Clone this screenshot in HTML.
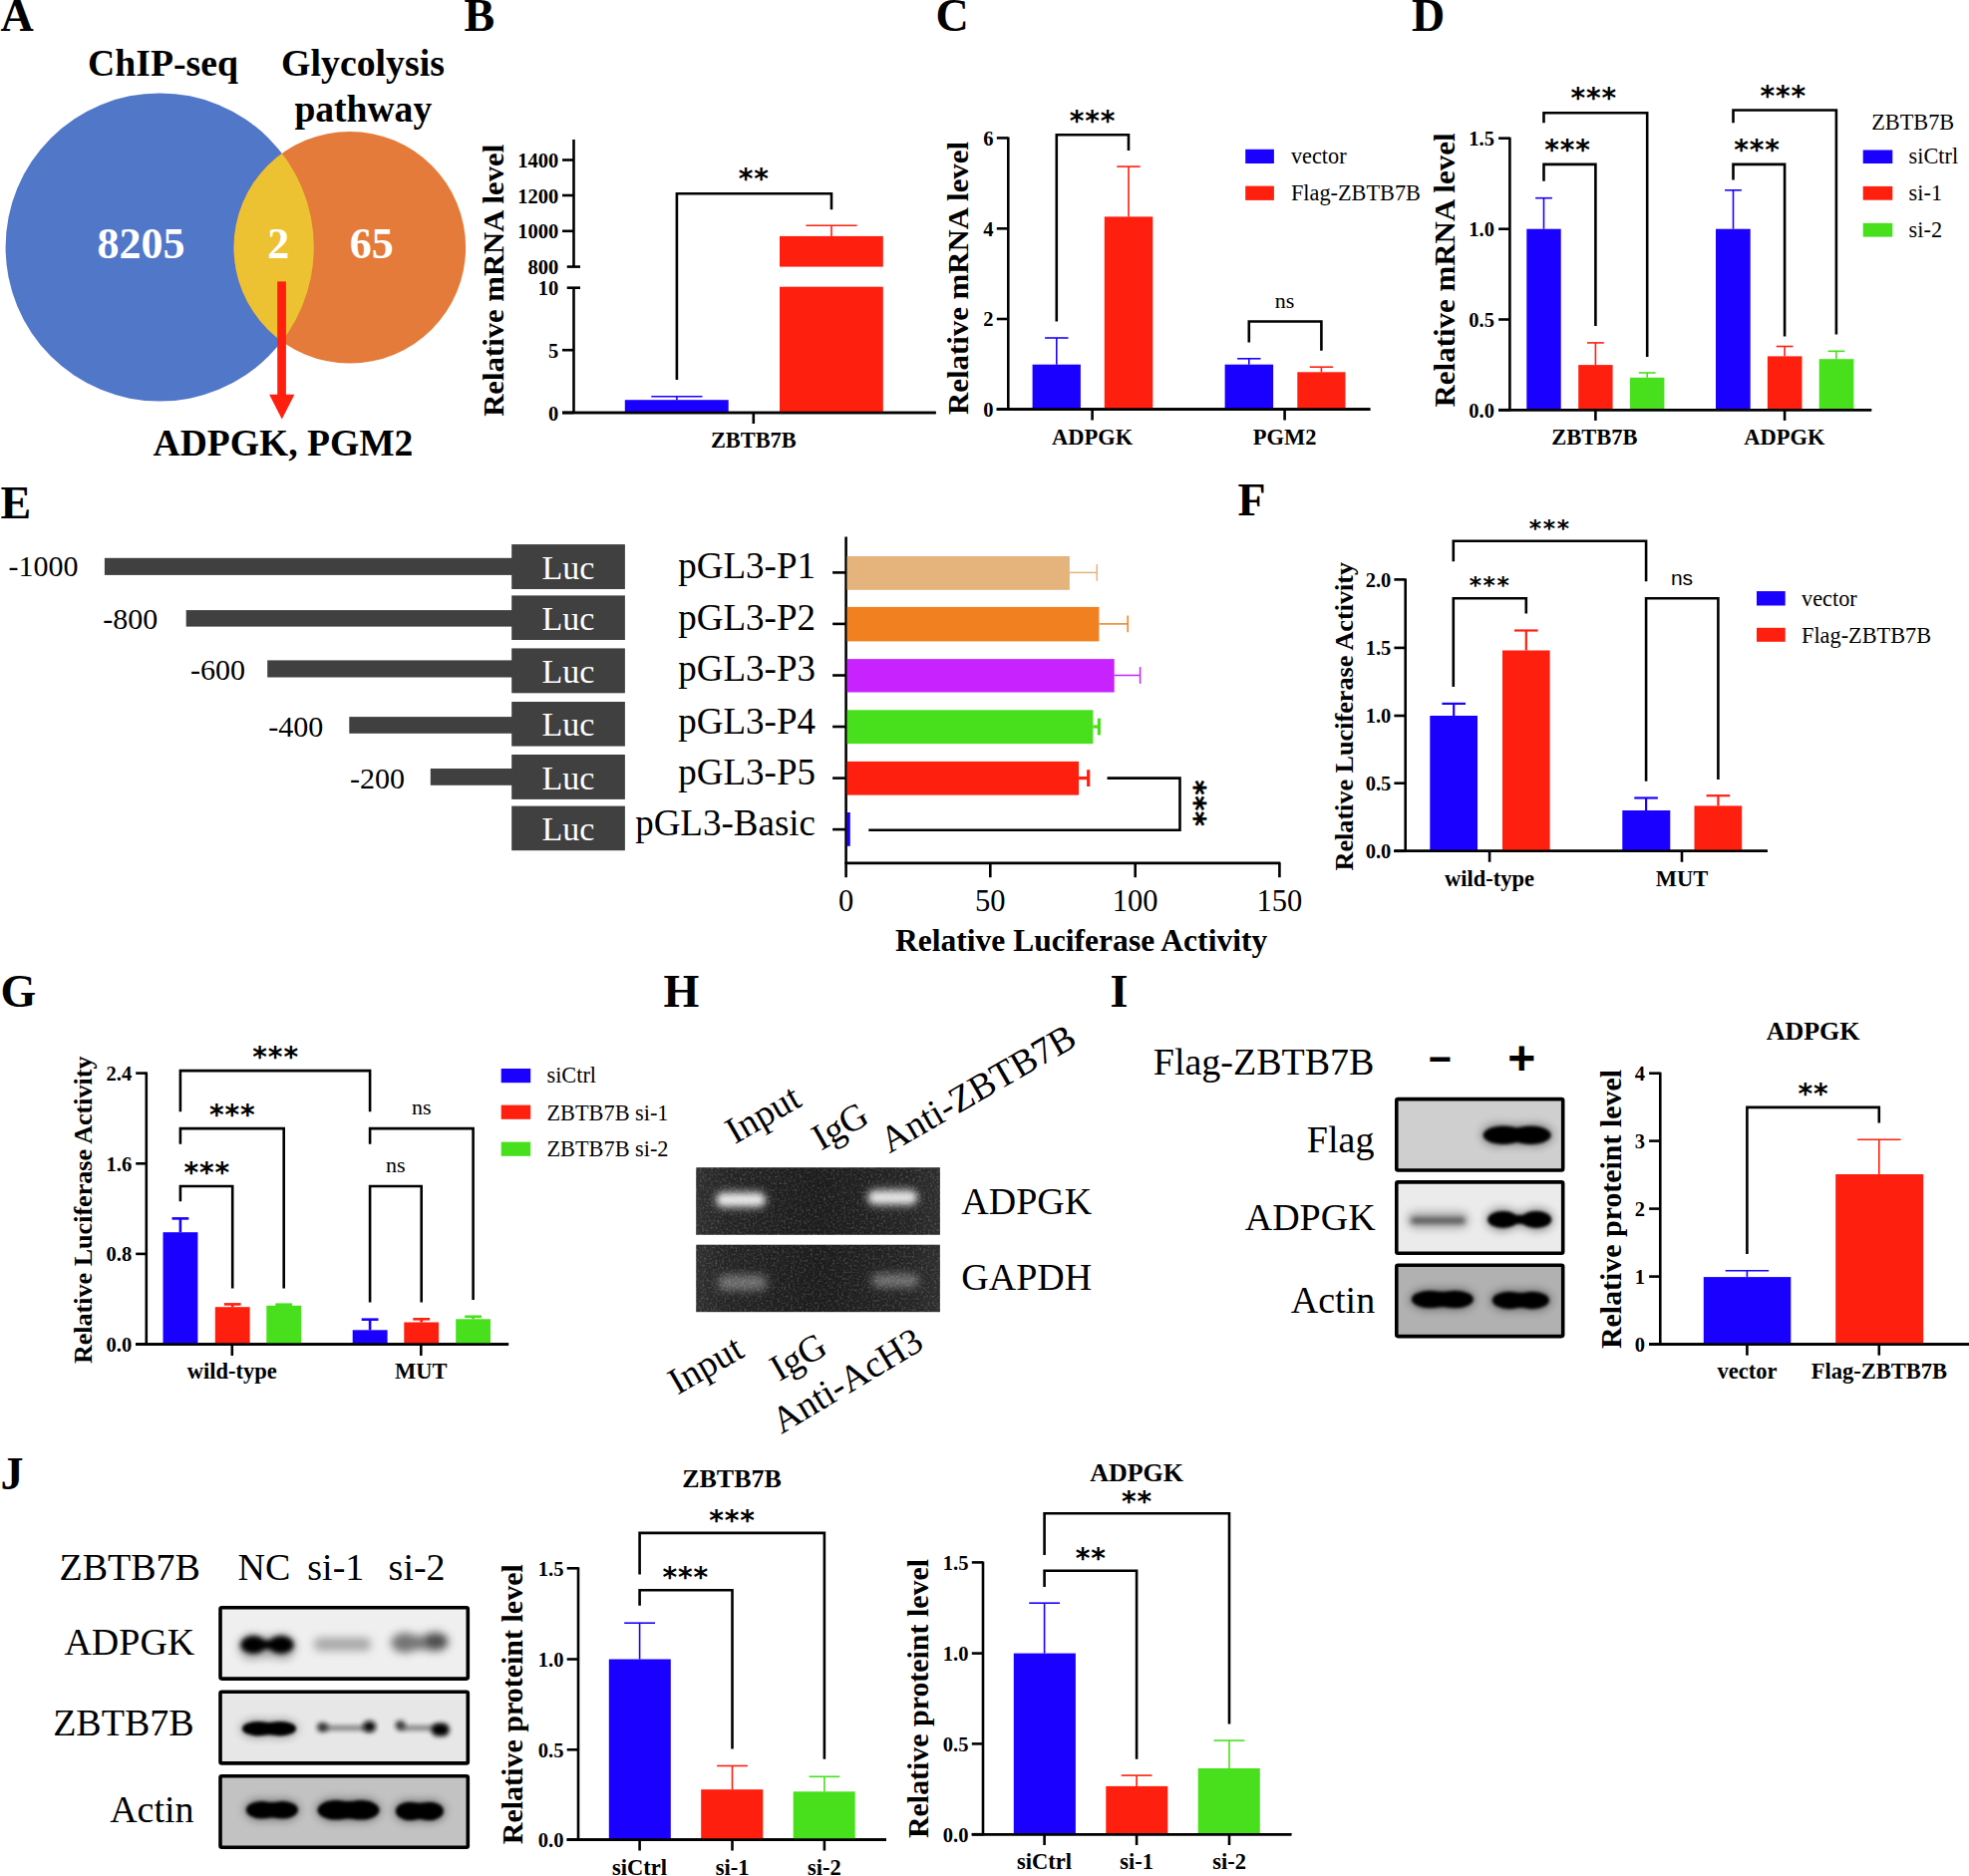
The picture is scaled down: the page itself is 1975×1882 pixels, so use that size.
<!DOCTYPE html>
<html lang="en"><head><meta charset="utf-8"><title>Figure</title>
<style>
html,body{margin:0;padding:0;background:#fff}
svg{display:block}
text{font-family:'Liberation Serif','DejaVu Serif',serif;white-space:pre}
text.st{font-family:'DejaVu Sans','Liberation Sans',sans-serif}
text.sa{font-family:'Liberation Sans','DejaVu Sans',sans-serif}
</style></head>
<body>
<svg width="1975" height="1882" viewBox="0 0 1975 1882">
<rect width="1975" height="1882" fill="#fff"/>
<text x="0.5" y="31" font-size="46" font-weight="bold">A</text>
<text x="465.5" y="31" font-size="46" font-weight="bold">B</text>
<text x="938.5" y="31" font-size="46" font-weight="bold">C</text>
<text x="1416" y="31" font-size="46" font-weight="bold">D</text>
<text x="0.5" y="520" font-size="46" font-weight="bold">E</text>
<text x="1241.5" y="517" font-size="46" font-weight="bold">F</text>
<text x="0.5" y="1010" font-size="46" font-weight="bold">G</text>
<text x="665.5" y="1010" font-size="46" font-weight="bold">H</text>
<text x="1113.5" y="1010" font-size="46" font-weight="bold">I</text>
<text x="0.5" y="1494" font-size="46" font-weight="bold">J</text>
<circle cx="160.2" cy="248" r="154.6" fill="#5177c9"/>
<circle cx="350.85" cy="248.2" r="116.3" fill="#e47b3a"/>
<clipPath id="cA"><circle cx="160.2" cy="248" r="154.6"/></clipPath>
<circle cx="350.85" cy="248.2" r="116.3" fill="#edc232" clip-path="url(#cA)"/>
<text x="163.5" y="76" font-size="37.7" font-weight="bold" text-anchor="middle">ChIP-seq</text>
<text x="364" y="76" font-size="37.8" font-weight="bold" text-anchor="middle">Glycolysis</text>
<text x="364.3" y="121.5" font-size="37.6" font-weight="bold" text-anchor="middle">pathway</text>
<text x="141.4" y="258.5" font-size="44" font-weight="bold" text-anchor="middle" fill="#fff">8205</text>
<text x="279.3" y="258.5" font-size="44" font-weight="bold" text-anchor="middle" fill="#fff">2</text>
<text x="372.8" y="258.5" font-size="44" font-weight="bold" text-anchor="middle" fill="#fff">65</text>
<rect x="278.2" y="282.4" width="8.7" height="114.6" fill="#fe1f0e"/>
<polygon points="270.1,395.8 295.4,395.8 282.8,420.6" fill="#fe1f0e"/>
<text x="284" y="457.2" font-size="37.6" font-weight="bold" text-anchor="middle" textLength="260.8" lengthAdjust="spacingAndGlyphs">ADPGK, PGM2</text>
<line x1="575.5" y1="140" x2="575.5" y2="267.6" stroke="#000" stroke-width="2.6"/>
<line x1="575.5" y1="288.7" x2="575.5" y2="415" stroke="#000" stroke-width="2.6"/>
<line x1="564" y1="160.5" x2="575.5" y2="160.5" stroke="#000" stroke-width="2.6"/>
<line x1="564" y1="196" x2="575.5" y2="196" stroke="#000" stroke-width="2.6"/>
<line x1="564" y1="231.8" x2="575.5" y2="231.8" stroke="#000" stroke-width="2.6"/>
<line x1="564" y1="351.2" x2="575.5" y2="351.2" stroke="#000" stroke-width="2.6"/>
<line x1="564" y1="414" x2="575.5" y2="414" stroke="#000" stroke-width="2.6"/>
<line x1="568.7" y1="267.6" x2="582" y2="267.6" stroke="#000" stroke-width="2.6"/>
<line x1="568.7" y1="288.7" x2="582" y2="288.7" stroke="#000" stroke-width="2.6"/>
<line x1="564" y1="414" x2="938.7" y2="414" stroke="#000" stroke-width="2.6"/>
<line x1="755.8" y1="414" x2="755.8" y2="425" stroke="#000" stroke-width="2.6"/>
<text x="560.3" y="168" font-size="20.5" font-weight="bold" text-anchor="end">1400</text>
<text x="560.3" y="203.5" font-size="20.5" font-weight="bold" text-anchor="end">1200</text>
<text x="560.3" y="239.3" font-size="20.5" font-weight="bold" text-anchor="end">1000</text>
<text x="560.3" y="275.1" font-size="20.5" font-weight="bold" text-anchor="end">800</text>
<text x="560.3" y="296.2" font-size="20.5" font-weight="bold" text-anchor="end">10</text>
<text x="560.3" y="358.7" font-size="20.5" font-weight="bold" text-anchor="end">5</text>
<text x="560.3" y="421.5" font-size="20.5" font-weight="bold" text-anchor="end">0</text>
<rect x="626.8" y="401.2" width="103.9" height="12.8" fill="#1a00ff"/>
<line x1="678.9" y1="397.7" x2="678.9" y2="401.2" stroke="#1a00ff" stroke-width="1.6"/>
<line x1="653.3" y1="397.7" x2="704.5" y2="397.7" stroke="#1a00ff" stroke-width="1.6"/>
<rect x="782" y="236.9" width="103.8" height="30.7" fill="#fe1f0e"/>
<rect x="782" y="287.7" width="103.8" height="126.3" fill="#fe1f0e"/>
<line x1="834" y1="226.3" x2="834" y2="236.9" stroke="#fe1f0e" stroke-width="1.6"/>
<line x1="808.4" y1="226.3" x2="859.6" y2="226.3" stroke="#fe1f0e" stroke-width="1.6"/>
<polyline fill="none" stroke="#000" stroke-width="2.6" stroke-linejoin="miter" points="678.9,381 678.9,194.3 834,194.3 834,210.3"/>
<text x="756.25" y="189.36" font-size="28" font-weight="bold" text-anchor="middle" letter-spacing="0.9" class="st">**</text>
<text x="755.8" y="449.2" font-size="22.5" font-weight="bold" text-anchor="middle" textLength="85.8" lengthAdjust="spacingAndGlyphs">ZBTB7B</text>
<text x="505.2" y="281.3" font-size="30.3" font-weight="bold" text-anchor="middle" transform="rotate(-90 505.2 281.3)" textLength="273" lengthAdjust="spacingAndGlyphs">Relative mRNA level</text>
<line x1="1011.3" y1="137.4" x2="1011.3" y2="411.6" stroke="#000" stroke-width="2.6"/>
<line x1="999.8" y1="138.4" x2="1011.3" y2="138.4" stroke="#000" stroke-width="2.6"/>
<text x="996.5" y="145.8" font-size="20.5" font-weight="bold" text-anchor="end">6</text>
<line x1="999.8" y1="229.3" x2="1011.3" y2="229.3" stroke="#000" stroke-width="2.6"/>
<text x="996.5" y="236.7" font-size="20.5" font-weight="bold" text-anchor="end">4</text>
<line x1="999.8" y1="320" x2="1011.3" y2="320" stroke="#000" stroke-width="2.6"/>
<text x="996.5" y="327.4" font-size="20.5" font-weight="bold" text-anchor="end">2</text>
<line x1="999.8" y1="410.6" x2="1011.3" y2="410.6" stroke="#000" stroke-width="2.6"/>
<text x="996.5" y="418" font-size="20.5" font-weight="bold" text-anchor="end">0</text>
<line x1="999.8" y1="410.6" x2="1374.4" y2="410.6" stroke="#000" stroke-width="2.6"/>
<line x1="1095.6" y1="410.6" x2="1095.6" y2="421.5" stroke="#000" stroke-width="2.6"/>
<line x1="1288.6" y1="410.6" x2="1288.6" y2="421.5" stroke="#000" stroke-width="2.6"/>
<rect x="1035.6" y="365.7" width="48.3" height="44.9" fill="#1a00ff"/>
<rect x="1107.8" y="217.4" width="48.5" height="193.2" fill="#fe1f0e"/>
<rect x="1228.6" y="365.7" width="48.5" height="44.9" fill="#1a00ff"/>
<rect x="1301.3" y="373.3" width="48.2" height="37.3" fill="#fe1f0e"/>
<line x1="1059.8" y1="339" x2="1059.8" y2="365.7" stroke="#1a00ff" stroke-width="1.6"/>
<line x1="1048.1" y1="339" x2="1071.5" y2="339" stroke="#1a00ff" stroke-width="1.6"/>
<line x1="1132" y1="167.1" x2="1132" y2="217.4" stroke="#fe1f0e" stroke-width="1.6"/>
<line x1="1120.3" y1="167.1" x2="1143.7" y2="167.1" stroke="#fe1f0e" stroke-width="1.6"/>
<line x1="1252.8" y1="359.8" x2="1252.8" y2="365.7" stroke="#1a00ff" stroke-width="1.6"/>
<line x1="1241.1" y1="359.8" x2="1264.5" y2="359.8" stroke="#1a00ff" stroke-width="1.6"/>
<line x1="1325.4" y1="368.2" x2="1325.4" y2="373.3" stroke="#fe1f0e" stroke-width="1.6"/>
<line x1="1313.7" y1="368.2" x2="1337.1" y2="368.2" stroke="#fe1f0e" stroke-width="1.6"/>
<polyline fill="none" stroke="#000" stroke-width="2.6" stroke-linejoin="miter" points="1059.8,322.5 1059.8,135.2 1132,135.2 1132,151.1"/>
<text x="1096.05" y="131.06" font-size="28" font-weight="bold" text-anchor="middle" letter-spacing="0.9" class="st">***</text>
<polyline fill="none" stroke="#000" stroke-width="2.6" stroke-linejoin="miter" points="1252.8,343.6 1252.8,322.5 1325.4,322.5 1325.4,351.7"/>
<text x="1288.6" y="309.3" font-size="22" text-anchor="middle">ns</text>
<rect x="1249.2" y="149.8" width="28.7" height="14.2" fill="#1a00ff"/>
<rect x="1249.2" y="186.6" width="28.7" height="14.3" fill="#fe1f0e"/>
<text x="1294.9" y="163.8" font-size="22.3">vector</text>
<text x="1294.9" y="200.7" font-size="22.3">Flag-ZBTB7B</text>
<text x="1095.6" y="446.2" font-size="22.5" font-weight="bold" text-anchor="middle">ADPGK</text>
<text x="1288.6" y="446.2" font-size="22.5" font-weight="bold" text-anchor="middle">PGM2</text>
<text x="971.4" y="279" font-size="30.3" font-weight="bold" text-anchor="middle" transform="rotate(-90 971.4 279)" textLength="274" lengthAdjust="spacingAndGlyphs">Relative mRNA level</text>
<line x1="1514.4" y1="137.7" x2="1514.4" y2="412.2" stroke="#000" stroke-width="2.6"/>
<line x1="1503.1" y1="138.7" x2="1514.4" y2="138.7" stroke="#000" stroke-width="2.6"/>
<text x="1498.9" y="146.1" font-size="20.5" font-weight="bold" text-anchor="end">1.5</text>
<line x1="1503.1" y1="229.7" x2="1514.4" y2="229.7" stroke="#000" stroke-width="2.6"/>
<text x="1498.9" y="237.1" font-size="20.5" font-weight="bold" text-anchor="end">1.0</text>
<line x1="1503.1" y1="320.5" x2="1514.4" y2="320.5" stroke="#000" stroke-width="2.6"/>
<text x="1498.9" y="327.9" font-size="20.5" font-weight="bold" text-anchor="end">0.5</text>
<line x1="1503.1" y1="411.2" x2="1514.4" y2="411.2" stroke="#000" stroke-width="2.6"/>
<text x="1498.9" y="418.6" font-size="20.5" font-weight="bold" text-anchor="end">0.0</text>
<line x1="1503.1" y1="411.2" x2="1877.2" y2="411.2" stroke="#000" stroke-width="2.6"/>
<line x1="1600.4" y1="411.2" x2="1600.4" y2="421.9" stroke="#000" stroke-width="2.6"/>
<line x1="1790.1" y1="411.2" x2="1790.1" y2="421.9" stroke="#000" stroke-width="2.6"/>
<rect x="1531.3" y="229.7" width="34.4" height="181.5" fill="#1a00ff"/>
<rect x="1583.2" y="366.1" width="34.4" height="45.1" fill="#fe1f0e"/>
<rect x="1635" y="378.8" width="34.4" height="32.4" fill="#48e01c"/>
<rect x="1721" y="229.7" width="34.7" height="181.5" fill="#1a00ff"/>
<rect x="1772.9" y="357.4" width="34.6" height="53.8" fill="#fe1f0e"/>
<rect x="1824.7" y="360.2" width="34.7" height="51" fill="#48e01c"/>
<line x1="1548.5" y1="198.7" x2="1548.5" y2="229.7" stroke="#1a00ff" stroke-width="1.6"/>
<line x1="1540.1" y1="198.7" x2="1556.9" y2="198.7" stroke="#1a00ff" stroke-width="1.6"/>
<line x1="1600.4" y1="343.9" x2="1600.4" y2="366.1" stroke="#fe1f0e" stroke-width="1.6"/>
<line x1="1592" y1="343.9" x2="1608.8" y2="343.9" stroke="#fe1f0e" stroke-width="1.6"/>
<line x1="1652.2" y1="374" x2="1652.2" y2="378.8" stroke="#48e01c" stroke-width="1.6"/>
<line x1="1643.8" y1="374" x2="1660.6" y2="374" stroke="#48e01c" stroke-width="1.6"/>
<line x1="1738.5" y1="190.8" x2="1738.5" y2="229.7" stroke="#1a00ff" stroke-width="1.6"/>
<line x1="1730.1" y1="190.8" x2="1746.9" y2="190.8" stroke="#1a00ff" stroke-width="1.6"/>
<line x1="1790.1" y1="347.5" x2="1790.1" y2="357.4" stroke="#fe1f0e" stroke-width="1.6"/>
<line x1="1781.7" y1="347.5" x2="1798.5" y2="347.5" stroke="#fe1f0e" stroke-width="1.6"/>
<line x1="1841.9" y1="352.3" x2="1841.9" y2="360.2" stroke="#48e01c" stroke-width="1.6"/>
<line x1="1833.5" y1="352.3" x2="1850.3" y2="352.3" stroke="#48e01c" stroke-width="1.6"/>
<polyline fill="none" stroke="#000" stroke-width="2.6" stroke-linejoin="miter" points="1548.5,181.8 1548.5,164.9 1600.4,164.9 1600.4,326.9"/>
<text x="1572.55" y="160.06" font-size="28" font-weight="bold" text-anchor="middle" letter-spacing="0.9" class="st">***</text>
<polyline fill="none" stroke="#000" stroke-width="2.6" stroke-linejoin="miter" points="1548.5,123.2 1548.5,113.3 1652.2,113.3 1652.2,357.9"/>
<text x="1598.85" y="108.36" font-size="28" font-weight="bold" text-anchor="middle" letter-spacing="0.9" class="st">***</text>
<polyline fill="none" stroke="#000" stroke-width="2.6" stroke-linejoin="miter" points="1738.5,180.4 1738.5,164.9 1790.1,164.9 1790.1,337.4"/>
<text x="1762.55" y="160.06" font-size="28" font-weight="bold" text-anchor="middle" letter-spacing="0.9" class="st">***</text>
<polyline fill="none" stroke="#000" stroke-width="2.6" stroke-linejoin="miter" points="1738.5,123.2 1738.5,110.5 1841.9,110.5 1841.9,335.4"/>
<text x="1788.75" y="106.46" font-size="28" font-weight="bold" text-anchor="middle" letter-spacing="0.9" class="st">***</text>
<text x="1877.2" y="130.2" font-size="22.3">ZBTB7B</text>
<rect x="1868.7" y="150.5" width="29.6" height="13.5" fill="#1a00ff"/>
<rect x="1868.7" y="186.9" width="29.6" height="13.8" fill="#fe1f0e"/>
<rect x="1868.7" y="223.8" width="29.6" height="13.8" fill="#48e01c"/>
<text x="1914.6" y="164" font-size="22.3">siCtrl</text>
<text x="1914.6" y="201" font-size="22.3">si-1</text>
<text x="1914.6" y="237.6" font-size="22.3">si-2</text>
<text x="1599.5" y="446.3" font-size="22.5" font-weight="bold" text-anchor="middle">ZBTB7B</text>
<text x="1789.8" y="446.3" font-size="22.5" font-weight="bold" text-anchor="middle">ADPGK</text>
<text x="1458.9" y="271" font-size="30.3" font-weight="bold" text-anchor="middle" transform="rotate(-90 1458.9 271)" textLength="275" lengthAdjust="spacingAndGlyphs">Relative mRNA level</text>
<rect x="513.2" y="546.1" width="113.7" height="44.9" fill="#404040"/>
<text x="570" y="580.6" font-size="34" text-anchor="middle" fill="#fff">Luc</text>
<rect x="513.2" y="597.4" width="113.7" height="44.6" fill="#404040"/>
<text x="570" y="631.9" font-size="34" text-anchor="middle" fill="#fff">Luc</text>
<rect x="513.2" y="650.4" width="113.7" height="44.9" fill="#404040"/>
<text x="570" y="684.5" font-size="34" text-anchor="middle" fill="#fff">Luc</text>
<rect x="513.2" y="704" width="113.7" height="44.6" fill="#404040"/>
<text x="570" y="738.2" font-size="34" text-anchor="middle" fill="#fff">Luc</text>
<rect x="513.2" y="757" width="113.7" height="44.9" fill="#404040"/>
<text x="570" y="791.8" font-size="34" text-anchor="middle" fill="#fff">Luc</text>
<rect x="513.2" y="808.6" width="113.7" height="44.6" fill="#404040"/>
<text x="570" y="842.8" font-size="34" text-anchor="middle" fill="#fff">Luc</text>
<rect x="104.9" y="559.8" width="409.1" height="17.1" fill="#404040"/>
<rect x="186.7" y="612.1" width="327.3" height="16.5" fill="#404040"/>
<rect x="268.2" y="662.4" width="245.8" height="17.1" fill="#404040"/>
<rect x="350.3" y="719.1" width="163.7" height="16.7" fill="#404040"/>
<rect x="431.8" y="771" width="82.2" height="16.8" fill="#404040"/>
<text x="8.4" y="578.2" font-size="30">-1000</text>
<text x="103.3" y="631.1" font-size="30">-800</text>
<text x="191.1" y="682.1" font-size="30">-600</text>
<text x="269.2" y="739.1" font-size="30">-400</text>
<text x="351" y="791" font-size="30">-200</text>
<text x="818" y="580.2" font-size="37" text-anchor="end">pGL3-P1</text>
<text x="818" y="631.7" font-size="37" text-anchor="end">pGL3-P2</text>
<text x="818" y="683.2" font-size="37" text-anchor="end">pGL3-P3</text>
<text x="818" y="735.5" font-size="37" text-anchor="end">pGL3-P4</text>
<text x="818" y="787.4" font-size="37" text-anchor="end">pGL3-P5</text>
<text x="818" y="837.9" font-size="37" text-anchor="end">pGL3-Basic</text>
<line x1="848.6" y1="538.5" x2="848.6" y2="866.9" stroke="#000" stroke-width="2.6"/>
<line x1="847.6" y1="865.9" x2="1284.4" y2="865.9" stroke="#000" stroke-width="2.6"/>
<line x1="848.6" y1="865.9" x2="848.6" y2="880.2" stroke="#000" stroke-width="2.6"/>
<text x="848.6" y="913.6" font-size="30.5" text-anchor="middle">0</text>
<line x1="993.3" y1="865.9" x2="993.3" y2="880.2" stroke="#000" stroke-width="2.6"/>
<text x="993.3" y="913.6" font-size="30.5" text-anchor="middle">50</text>
<line x1="1138.7" y1="865.9" x2="1138.7" y2="880.2" stroke="#000" stroke-width="2.6"/>
<text x="1138.7" y="913.6" font-size="30.5" text-anchor="middle">100</text>
<line x1="1283.4" y1="865.9" x2="1283.4" y2="880.2" stroke="#000" stroke-width="2.6"/>
<text x="1283.4" y="913.6" font-size="30.5" text-anchor="middle">150</text>
<line x1="835.1" y1="574.4" x2="848.6" y2="574.4" stroke="#000" stroke-width="2.6"/>
<line x1="835.1" y1="625.9" x2="848.6" y2="625.9" stroke="#000" stroke-width="2.6"/>
<line x1="835.1" y1="677.5" x2="848.6" y2="677.5" stroke="#000" stroke-width="2.6"/>
<line x1="835.1" y1="729" x2="848.6" y2="729" stroke="#000" stroke-width="2.6"/>
<line x1="835.1" y1="780.6" x2="848.6" y2="780.6" stroke="#000" stroke-width="2.6"/>
<line x1="835.1" y1="832.1" x2="848.6" y2="832.1" stroke="#000" stroke-width="2.6"/>
<rect x="849.6" y="558" width="223.3" height="33.8" fill="#e5b47c"/>
<line x1="1072.9" y1="574.4" x2="1100.3" y2="574.4" stroke="#e5b47c" stroke-width="1.5"/>
<line x1="1100.3" y1="566" x2="1100.3" y2="582.8" stroke="#e5b47c" stroke-width="1.5"/>
<rect x="849.6" y="608.9" width="252.8" height="34.5" fill="#f08020"/>
<line x1="1102.4" y1="625.9" x2="1131.2" y2="625.9" stroke="#f08020" stroke-width="1.5"/>
<line x1="1131.2" y1="617.5" x2="1131.2" y2="634.3" stroke="#f08020" stroke-width="1.5"/>
<rect x="849.6" y="661.1" width="268.1" height="33.4" fill="#c822ff"/>
<line x1="1117.7" y1="677.5" x2="1143.6" y2="677.5" stroke="#c822ff" stroke-width="1.5"/>
<line x1="1143.6" y1="669.1" x2="1143.6" y2="685.9" stroke="#c822ff" stroke-width="1.5"/>
<rect x="849.6" y="712.3" width="246.8" height="33.8" fill="#48e01c"/>
<line x1="1096.4" y1="729" x2="1102.4" y2="729" stroke="#48e01c" stroke-width="3.2"/>
<line x1="1102.4" y1="720.6" x2="1102.4" y2="737.4" stroke="#48e01c" stroke-width="3.2"/>
<rect x="849.6" y="763.9" width="232.5" height="33.7" fill="#fe1f0e"/>
<line x1="1082.1" y1="780.6" x2="1091.7" y2="780.6" stroke="#fe1f0e" stroke-width="3.2"/>
<line x1="1091.7" y1="772.2" x2="1091.7" y2="789" stroke="#fe1f0e" stroke-width="3.2"/>
<rect x="849.6" y="815" width="3.2" height="33.8" fill="#1a00ff"/>
<polyline fill="none" stroke="#000" stroke-width="2.6" stroke-linejoin="miter" points="1110.6,780.6 1183.5,780.6 1183.5,832.8 871.3,832.8"/>
<text x="1203" y="820.56" font-size="28" font-weight="bold" text-anchor="middle" letter-spacing="0.9" stroke="#000" stroke-width="0.5" class="st" transform="rotate(90 1203 806.2)">***</text>
<text x="1084.6" y="954" font-size="31.3" font-weight="bold" text-anchor="middle" textLength="373.3" lengthAdjust="spacingAndGlyphs">Relative Luciferase Activity</text>
<line x1="1409.7" y1="580.4" x2="1409.7" y2="854.8" stroke="#000" stroke-width="2.6"/>
<line x1="1398.4" y1="581.4" x2="1409.7" y2="581.4" stroke="#000" stroke-width="2.6"/>
<text x="1395.3" y="588.8" font-size="20.5" font-weight="bold" text-anchor="end">2.0</text>
<line x1="1398.4" y1="649.9" x2="1409.7" y2="649.9" stroke="#000" stroke-width="2.6"/>
<text x="1395.3" y="657.3" font-size="20.5" font-weight="bold" text-anchor="end">1.5</text>
<line x1="1398.4" y1="718" x2="1409.7" y2="718" stroke="#000" stroke-width="2.6"/>
<text x="1395.3" y="725.4" font-size="20.5" font-weight="bold" text-anchor="end">1.0</text>
<line x1="1398.4" y1="785.7" x2="1409.7" y2="785.7" stroke="#000" stroke-width="2.6"/>
<text x="1395.3" y="793.1" font-size="20.5" font-weight="bold" text-anchor="end">0.5</text>
<line x1="1398.4" y1="853.8" x2="1409.7" y2="853.8" stroke="#000" stroke-width="2.6"/>
<text x="1395.3" y="861.2" font-size="20.5" font-weight="bold" text-anchor="end">0.0</text>
<line x1="1398.4" y1="853.8" x2="1772.9" y2="853.8" stroke="#000" stroke-width="2.6"/>
<line x1="1494.1" y1="853.8" x2="1494.1" y2="864.8" stroke="#000" stroke-width="2.6"/>
<line x1="1687" y1="853.8" x2="1687" y2="864.8" stroke="#000" stroke-width="2.6"/>
<rect x="1434.3" y="718" width="47.7" height="135.8" fill="#1a00ff"/>
<rect x="1507" y="652.5" width="47.6" height="201.3" fill="#fe1f0e"/>
<rect x="1627.3" y="813" width="48" height="40.8" fill="#1a00ff"/>
<rect x="1699.5" y="808.4" width="47.7" height="45.4" fill="#fe1f0e"/>
<line x1="1458.2" y1="705.9" x2="1458.2" y2="718" stroke="#1a00ff" stroke-width="2.2"/>
<line x1="1446.4" y1="705.9" x2="1470" y2="705.9" stroke="#1a00ff" stroke-width="2.2"/>
<line x1="1530.8" y1="632.5" x2="1530.8" y2="652.5" stroke="#fe1f0e" stroke-width="2.2"/>
<line x1="1519" y1="632.5" x2="1542.6" y2="632.5" stroke="#fe1f0e" stroke-width="2.2"/>
<line x1="1651.1" y1="800.5" x2="1651.1" y2="813" stroke="#1a00ff" stroke-width="2.2"/>
<line x1="1639.3" y1="800.5" x2="1662.9" y2="800.5" stroke="#1a00ff" stroke-width="2.2"/>
<line x1="1723.4" y1="798.2" x2="1723.4" y2="808.4" stroke="#fe1f0e" stroke-width="2.2"/>
<line x1="1711.6" y1="798.2" x2="1735.2" y2="798.2" stroke="#fe1f0e" stroke-width="2.2"/>
<polyline fill="none" stroke="#000" stroke-width="2.6" stroke-linejoin="miter" points="1457.8,688.9 1457.8,600.3 1530.8,600.3 1530.8,615.5"/>
<text x="1494.5" y="595.06" font-size="23.5" font-weight="bold" text-anchor="middle" letter-spacing="1.6" class="st">***</text>
<polyline fill="none" stroke="#000" stroke-width="2.6" stroke-linejoin="miter" points="1457.8,563.2 1457.8,542.8 1651.1,542.8 1651.1,583.3"/>
<text x="1554.7" y="538.26" font-size="23.5" font-weight="bold" text-anchor="middle" letter-spacing="1.6" class="st">***</text>
<polyline fill="none" stroke="#000" stroke-width="2.6" stroke-linejoin="miter" points="1651.1,783.8 1651.1,600.3 1723.4,600.3 1723.4,782"/>
<text x="1687" y="587" font-size="21" text-anchor="middle" class="sa">ns</text>
<rect x="1762" y="593.1" width="28.7" height="14.4" fill="#1a00ff"/>
<rect x="1762" y="629.8" width="28.7" height="14" fill="#fe1f0e"/>
<text x="1807" y="607.9" font-size="22.3">vector</text>
<text x="1807" y="644.6" font-size="22.3">Flag-ZBTB7B</text>
<text x="1494.1" y="888.6" font-size="22.5" font-weight="bold" text-anchor="middle">wild-type</text>
<text x="1687" y="888.6" font-size="22.5" font-weight="bold" text-anchor="middle">MUT</text>
<text x="1357.5" y="718.7" font-size="26" font-weight="bold" text-anchor="middle" transform="rotate(-90 1357.5 718.7)" textLength="309.5" lengthAdjust="spacingAndGlyphs">Relative Luciferase Activity</text>
<line x1="146.8" y1="1075.6" x2="146.8" y2="1349.6" stroke="#000" stroke-width="2.6"/>
<line x1="136.2" y1="1076.6" x2="146.8" y2="1076.6" stroke="#000" stroke-width="2.6"/>
<text x="132.2" y="1084" font-size="20.5" font-weight="bold" text-anchor="end">2.4</text>
<line x1="136.2" y1="1167.3" x2="146.8" y2="1167.3" stroke="#000" stroke-width="2.6"/>
<text x="132.2" y="1174.7" font-size="20.5" font-weight="bold" text-anchor="end">1.6</text>
<line x1="136.2" y1="1257.9" x2="146.8" y2="1257.9" stroke="#000" stroke-width="2.6"/>
<text x="132.2" y="1265.3" font-size="20.5" font-weight="bold" text-anchor="end">0.8</text>
<line x1="136.2" y1="1348.6" x2="146.8" y2="1348.6" stroke="#000" stroke-width="2.6"/>
<text x="132.2" y="1356" font-size="20.5" font-weight="bold" text-anchor="end">0.0</text>
<line x1="136.2" y1="1348.6" x2="510.1" y2="1348.6" stroke="#000" stroke-width="2.6"/>
<line x1="232.8" y1="1348.6" x2="232.8" y2="1360" stroke="#000" stroke-width="2.6"/>
<line x1="422.3" y1="1348.6" x2="422.3" y2="1360" stroke="#000" stroke-width="2.6"/>
<rect x="163.5" y="1236.2" width="34.9" height="112.4" fill="#1a00ff"/>
<rect x="215.8" y="1311.2" width="34.8" height="37.4" fill="#fe1f0e"/>
<rect x="267.3" y="1309.8" width="34.9" height="38.8" fill="#48e01c"/>
<rect x="353.7" y="1334.3" width="34.9" height="14.3" fill="#1a00ff"/>
<rect x="405.3" y="1326.5" width="34.8" height="22.1" fill="#fe1f0e"/>
<rect x="457.2" y="1323.3" width="34.8" height="25.3" fill="#48e01c"/>
<line x1="180.9" y1="1222.4" x2="180.9" y2="1236.2" stroke="#1a00ff" stroke-width="2.6"/>
<line x1="172.5" y1="1222.4" x2="189.3" y2="1222.4" stroke="#1a00ff" stroke-width="2.6"/>
<line x1="233.2" y1="1308.4" x2="233.2" y2="1311.2" stroke="#fe1f0e" stroke-width="2.6"/>
<line x1="224.8" y1="1308.4" x2="241.6" y2="1308.4" stroke="#fe1f0e" stroke-width="2.6"/>
<line x1="284.7" y1="1308.7" x2="284.7" y2="1309.8" stroke="#48e01c" stroke-width="2.6"/>
<line x1="276.3" y1="1308.7" x2="293.1" y2="1308.7" stroke="#48e01c" stroke-width="2.6"/>
<line x1="371.1" y1="1323.7" x2="371.1" y2="1334.3" stroke="#1a00ff" stroke-width="2.6"/>
<line x1="362.7" y1="1323.7" x2="379.5" y2="1323.7" stroke="#1a00ff" stroke-width="2.6"/>
<line x1="422.7" y1="1323.3" x2="422.7" y2="1326.5" stroke="#fe1f0e" stroke-width="2.6"/>
<line x1="414.3" y1="1323.3" x2="431.1" y2="1323.3" stroke="#fe1f0e" stroke-width="2.6"/>
<line x1="474.6" y1="1320.8" x2="474.6" y2="1323.3" stroke="#48e01c" stroke-width="2.6"/>
<line x1="466.2" y1="1320.8" x2="483" y2="1320.8" stroke="#48e01c" stroke-width="2.6"/>
<polyline fill="none" stroke="#000" stroke-width="2.6" stroke-linejoin="miter" points="180.9,1205.3 180.9,1190 233.2,1190 233.2,1292.4"/>
<text x="207.75" y="1185.76" font-size="28" font-weight="bold" text-anchor="middle" letter-spacing="0.9" class="st">***</text>
<polyline fill="none" stroke="#000" stroke-width="2.6" stroke-linejoin="miter" points="180.9,1147.7 180.9,1132.1 284.7,1132.1 284.7,1292.4"/>
<text x="233.25" y="1127.56" font-size="28" font-weight="bold" text-anchor="middle" letter-spacing="0.9" class="st">***</text>
<polyline fill="none" stroke="#000" stroke-width="2.6" stroke-linejoin="miter" points="180.9,1115.3 180.9,1074.1 371.1,1074.1 371.1,1115.3"/>
<text x="276.65" y="1070.36" font-size="28" font-weight="bold" text-anchor="middle" letter-spacing="0.9" class="st">***</text>
<polyline fill="none" stroke="#000" stroke-width="2.6" stroke-linejoin="miter" points="371.1,1306.6 371.1,1190 422.7,1190 422.7,1306.6"/>
<text x="396.7" y="1175.8" font-size="22" text-anchor="middle">ns</text>
<polyline fill="none" stroke="#000" stroke-width="2.6" stroke-linejoin="miter" points="371.1,1147.7 371.1,1132.1 474.6,1132.1 474.6,1304.1"/>
<text x="422.7" y="1118.2" font-size="22" text-anchor="middle">ns</text>
<rect x="502.7" y="1072" width="29.5" height="14.2" fill="#1a00ff"/>
<rect x="502.7" y="1108.6" width="29.5" height="14.2" fill="#fe1f0e"/>
<rect x="502.7" y="1145.6" width="29.5" height="14.2" fill="#48e01c"/>
<text x="548.5" y="1086.2" font-size="22.3">siCtrl</text>
<text x="548.5" y="1123.5" font-size="22.3">ZBTB7B si-1</text>
<text x="548.5" y="1160.1" font-size="22.3">ZBTB7B si-2</text>
<text x="232.8" y="1383" font-size="22.5" font-weight="bold" text-anchor="middle">wild-type</text>
<text x="422.3" y="1383" font-size="22.5" font-weight="bold" text-anchor="middle">MUT</text>
<text x="92.1" y="1213.8" font-size="26" font-weight="bold" text-anchor="middle" transform="rotate(-90 92.1 1213.8)" textLength="308.6" lengthAdjust="spacingAndGlyphs">Relative Luciferase Activity</text>
<filter id="f1" x="-30%" y="-100%" width="160%" height="300%"><feGaussianBlur stdDeviation="1.2"/></filter>
<filter id="f2" x="-30%" y="-100%" width="160%" height="300%"><feGaussianBlur stdDeviation="1.8"/></filter>
<filter id="f3" x="-30%" y="-100%" width="160%" height="300%"><feGaussianBlur stdDeviation="2.4"/></filter>
<filter id="f4" x="-30%" y="-100%" width="160%" height="300%"><feGaussianBlur stdDeviation="3.2"/></filter>
<filter id="f5" x="-30%" y="-100%" width="160%" height="300%"><feGaussianBlur stdDeviation="4.2"/></filter>
<linearGradient id="gg" x1="0" x2="1" y1="0" y2="0"><stop offset="0" stop-color="#303030"/><stop offset="0.12" stop-color="#252525"/><stop offset="0.5" stop-color="#1c1c1c"/><stop offset="0.88" stop-color="#252525"/><stop offset="1" stop-color="#2e2e2e"/></linearGradient>
<rect x="698.2" y="1171.2" width="244.7" height="67.6" fill="url(#gg)"/>
<rect x="698.2" y="1248.7" width="244.7" height="67.5" fill="url(#gg)"/>
<rect x="717.1" y="1194.6" width="52" height="18" rx="9" fill="#fff" filter="url(#f5)" opacity="0.45"/>
<rect x="720.1" y="1198.6" width="46" height="10" rx="5" fill="#ececec" filter="url(#f4)" opacity="1"/>
<rect x="869.3" y="1192.3" width="52" height="18" rx="9" fill="#fff" filter="url(#f5)" opacity="0.45"/>
<rect x="872.3" y="1196.3" width="46" height="10" rx="5" fill="#e8e8e8" filter="url(#f4)" opacity="1"/>
<rect x="719.8" y="1278.8" width="50" height="16" rx="8" fill="#7a7a7a" filter="url(#f5)" opacity="0.85"/>
<rect x="874" y="1277.8" width="48" height="14" rx="7" fill="#7c7c7c" filter="url(#f5)" opacity="0.85"/>
<filter id="nz" x="0" y="0" width="100%" height="100%"><feTurbulence type="fractalNoise" baseFrequency="0.45" numOctaves="2" seed="4"/><feColorMatrix type="matrix" values="0 0 0 0 1  0 0 0 0 1  0 0 0 0 1  0.5 0 0 0 -0.235"/></filter>
<rect x="698.2" y="1171.2" width="244.7" height="67.6" fill="#fff" filter="url(#nz)"/>
<rect x="698.2" y="1248.7" width="244.7" height="67.5" fill="#fff" filter="url(#nz)"/>
<text x="964.3" y="1218.3" font-size="38">ADPGK</text>
<text x="964.3" y="1294.3" font-size="38">GAPDH</text>
<text x="737" y="1148.2" font-size="37.6" transform="rotate(-30 737 1148.2)">Input</text>
<text x="823.4" y="1154.8" font-size="37.3" transform="rotate(-30 823.4 1154.8)">IgG</text>
<text x="892" y="1157.5" font-size="37.6" transform="rotate(-30 892 1157.5)">Anti-ZBTB7B</text>
<text x="679.5" y="1399.7" font-size="37.6" transform="rotate(-30 679.5 1399.7)">Input</text>
<text x="781.5" y="1386.3" font-size="37.3" transform="rotate(-30 781.5 1386.3)">IgG</text>
<text x="783.7" y="1439" font-size="37.5" transform="rotate(-31 783.7 1439)">Anti-AcH3</text>
<rect x="1400.8" y="1102.6" width="166.9" height="71.4" rx="1.5" fill="#cfcfcf" stroke="#000" stroke-width="3.6"/>
<rect x="1400.8" y="1185.9" width="166.9" height="71.4" rx="1.5" fill="#ebebeb" stroke="#000" stroke-width="3.6"/>
<rect x="1400.8" y="1269.3" width="166.9" height="71.3" rx="1.5" fill="#b1b1b1" stroke="#000" stroke-width="3.6"/>
<g filter="url(#f5)" fill="#000" opacity="0.35"><rect x="1496.07" y="1128.2" width="51.26" height="21"/><ellipse cx="1502.98" cy="1138.7" rx="17.28" ry="11.5"/><ellipse cx="1540.42" cy="1138.7" rx="17.28" ry="11.5"/></g>
<g filter="url(#f2)" fill="#000" opacity="1"><rect x="1499.94" y="1131.2" width="43.52" height="15"/><ellipse cx="1508.1" cy="1138.7" rx="20.4" ry="9.25"/><ellipse cx="1535.3" cy="1138.7" rx="20.4" ry="9.25"/></g>
<rect x="1411.4" y="1215.5" width="62" height="17" rx="8.5" fill="#777" filter="url(#f5)" opacity="0.55"/>
<rect x="1415.4" y="1221.4" width="54" height="6" rx="3" fill="#444" filter="url(#f3)" opacity="0.8"/>
<g filter="url(#f5)" fill="#000" opacity="0.35"><rect x="1499.99" y="1215.4" width="48.42" height="16"/><ellipse cx="1506.52" cy="1223.4" rx="16.32" ry="12"/><ellipse cx="1541.88" cy="1223.4" rx="16.32" ry="12"/></g>
<g filter="url(#f2)" fill="#000" opacity="1"><rect x="1501.42" y="1218.9" width="45.57" height="9"/><ellipse cx="1507.56" cy="1223.4" rx="15.36" ry="8.5"/><ellipse cx="1540.84" cy="1223.4" rx="15.36" ry="8.5"/></g>
<g filter="url(#f5)" fill="#000" opacity="0.35"><rect x="1425.78" y="1293" width="42.24" height="21"/><ellipse cx="1433.7" cy="1303.5" rx="19.8" ry="11"/><ellipse cx="1460.1" cy="1303.5" rx="19.8" ry="11"/></g>
<g filter="url(#f2)" fill="#000" opacity="1"><rect x="1427.06" y="1295.75" width="39.68" height="15.5"/><ellipse cx="1434.5" cy="1303.5" rx="18.6" ry="8.75"/><ellipse cx="1459.3" cy="1303.5" rx="18.6" ry="8.75"/></g>
<g filter="url(#f5)" fill="#000" opacity="0.35"><rect x="1505.56" y="1293.9" width="39.68" height="21"/><ellipse cx="1513" cy="1304.4" rx="18.6" ry="11"/><ellipse cx="1537.8" cy="1304.4" rx="18.6" ry="11"/></g>
<g filter="url(#f2)" fill="#000" opacity="1"><rect x="1507.16" y="1296.9" width="36.48" height="15"/><ellipse cx="1514" cy="1304.4" rx="17.1" ry="8.75"/><ellipse cx="1536.8" cy="1304.4" rx="17.1" ry="8.75"/></g>
<text x="1156.8" y="1077.8" font-size="38">Flag-ZBTB7B</text>
<text x="1378.4" y="1156.2" font-size="38" text-anchor="end">Flag</text>
<text x="1379.6" y="1234" font-size="38" text-anchor="end">ADPGK</text>
<text x="1379.2" y="1316.7" font-size="38" text-anchor="end">Actin</text>
<text x="1444.2" y="1075.5" font-size="40" font-weight="bold" text-anchor="middle" class="sa">−</text>
<text x="1526.2" y="1078" font-size="48" font-weight="bold" text-anchor="middle" class="sa">+</text>
<line x1="1665.3" y1="1075.7" x2="1665.3" y2="1349.6" stroke="#000" stroke-width="2.6"/>
<line x1="1654.1" y1="1076.7" x2="1665.3" y2="1076.7" stroke="#000" stroke-width="2.6"/>
<text x="1650.1" y="1084.1" font-size="20.5" font-weight="bold" text-anchor="end">4</text>
<line x1="1654.1" y1="1144.6" x2="1665.3" y2="1144.6" stroke="#000" stroke-width="2.6"/>
<text x="1650.1" y="1152" font-size="20.5" font-weight="bold" text-anchor="end">3</text>
<line x1="1654.1" y1="1212.6" x2="1665.3" y2="1212.6" stroke="#000" stroke-width="2.6"/>
<text x="1650.1" y="1220" font-size="20.5" font-weight="bold" text-anchor="end">2</text>
<line x1="1654.1" y1="1280.6" x2="1665.3" y2="1280.6" stroke="#000" stroke-width="2.6"/>
<text x="1650.1" y="1288" font-size="20.5" font-weight="bold" text-anchor="end">1</text>
<line x1="1654.1" y1="1348.6" x2="1665.3" y2="1348.6" stroke="#000" stroke-width="2.6"/>
<text x="1650.1" y="1356" font-size="20.5" font-weight="bold" text-anchor="end">0</text>
<line x1="1654.1" y1="1348.6" x2="1975" y2="1348.6" stroke="#000" stroke-width="2.6"/>
<line x1="1752.4" y1="1348.6" x2="1752.4" y2="1359.7" stroke="#000" stroke-width="2.6"/>
<line x1="1884.8" y1="1348.6" x2="1884.8" y2="1359.7" stroke="#000" stroke-width="2.6"/>
<rect x="1708.8" y="1281.1" width="87.5" height="67.5" fill="#1a00ff"/>
<rect x="1841.2" y="1178" width="88" height="170.6" fill="#fe1f0e"/>
<line x1="1752.4" y1="1274.8" x2="1752.4" y2="1281.1" stroke="#1a00ff" stroke-width="1.6"/>
<line x1="1730.7" y1="1274.8" x2="1774.1" y2="1274.8" stroke="#1a00ff" stroke-width="1.6"/>
<line x1="1884.8" y1="1143.3" x2="1884.8" y2="1178" stroke="#fe1f0e" stroke-width="1.6"/>
<line x1="1863.1" y1="1143.3" x2="1906.5" y2="1143.3" stroke="#fe1f0e" stroke-width="1.6"/>
<polyline fill="none" stroke="#000" stroke-width="2.6" stroke-linejoin="miter" points="1752.4,1258 1752.4,1110.9 1884.8,1110.9 1884.8,1126.4"/>
<text x="1819.05" y="1106.56" font-size="28" font-weight="bold" text-anchor="middle" letter-spacing="0.9" class="st">**</text>
<text x="1818.6" y="1043.3" font-size="26" font-weight="bold" text-anchor="middle">ADPGK</text>
<text x="1752.4" y="1383.3" font-size="22.5" font-weight="bold" text-anchor="middle">vector</text>
<text x="1884.8" y="1383.3" font-size="22.5" font-weight="bold" text-anchor="middle">Flag-ZBTB7B</text>
<text x="1625.7" y="1213" font-size="30" font-weight="bold" text-anchor="middle" transform="rotate(-90 1625.7 1213)" textLength="280" lengthAdjust="spacingAndGlyphs">Relative proteint level</text>
<rect x="221" y="1612.7" width="248.3" height="71.4" rx="1.5" fill="#efefef" stroke="#000" stroke-width="3.6"/>
<rect x="221" y="1697.2" width="248.3" height="71.7" rx="1.5" fill="#e7e7e7" stroke="#000" stroke-width="3.6"/>
<rect x="221" y="1781.7" width="248.3" height="71.5" rx="1.5" fill="#c2c2c2" stroke="#000" stroke-width="3.6"/>
<g filter="url(#f5)" fill="#000" opacity="0.3"><rect x="247.35" y="1641" width="41.3" height="22"/><ellipse cx="252.92" cy="1652" rx="13.92" ry="13"/><ellipse cx="283.08" cy="1652" rx="13.92" ry="13"/></g>
<g filter="url(#f3)" fill="#000" opacity="1"><rect x="249.13" y="1645.5" width="37.74" height="9"/><ellipse cx="254.22" cy="1650" rx="12.72" ry="9"/><ellipse cx="281.78" cy="1650" rx="12.72" ry="9"/></g>
<rect x="314.5" y="1643" width="58" height="13" rx="6.5" fill="#9a9a9a" filter="url(#f5)" opacity="0.85"/>
<g filter="url(#f5)" fill="#555" opacity="0.8"><rect x="400.55" y="1641" width="41.3" height="14"/><ellipse cx="406.12" cy="1648" rx="13.92" ry="10"/><ellipse cx="436.28" cy="1647" rx="13.92" ry="10"/></g>
<rect x="428" y="1641.5" width="18" height="10" rx="5" fill="#333" filter="url(#f4)" opacity="0.6"/>
<g filter="url(#f5)" fill="#000" opacity="0.3"><rect x="251.44" y="1725.7" width="37.12" height="17"/><ellipse cx="258.4" cy="1734.2" rx="17.4" ry="9.5"/><ellipse cx="281.6" cy="1734.2" rx="17.4" ry="9.5"/></g>
<g filter="url(#f2)" fill="#000" opacity="1"><rect x="252.72" y="1727.95" width="34.56" height="12.5"/><ellipse cx="259.2" cy="1734.2" rx="16.2" ry="7.25"/><ellipse cx="280.8" cy="1734.2" rx="16.2" ry="7.25"/></g>
<rect x="321.4" y="1731.5" width="52" height="4" rx="2" fill="#555" filter="url(#f3)" opacity="0.9"/>
<rect x="318" y="1728.3" width="11" height="9" rx="4.5" fill="#333" filter="url(#f3)" opacity="1"/>
<rect x="364.1" y="1726.6" width="13" height="11" rx="5.5" fill="#111" filter="url(#f3)" opacity="1"/>
<rect x="399.7" y="1731.6" width="48" height="4" rx="2" fill="#555" filter="url(#f3)" opacity="0.9"/>
<rect x="396.6" y="1726.2" width="10" height="9" rx="4.5" fill="#333" filter="url(#f3)" opacity="1"/>
<rect x="432.7" y="1728.8" width="18" height="13" rx="6.5" fill="#000" filter="url(#f3)" opacity="1"/>
<g filter="url(#f5)" fill="#000" opacity="0.35"><rect x="254.98" y="1805.3" width="35.84" height="21"/><ellipse cx="261.7" cy="1815.8" rx="16.8" ry="11"/><ellipse cx="284.1" cy="1815.8" rx="16.8" ry="11"/></g>
<g filter="url(#f2)" fill="#000" opacity="1"><rect x="256.26" y="1808.05" width="33.28" height="15.5"/><ellipse cx="262.5" cy="1815.8" rx="15.6" ry="8.75"/><ellipse cx="283.3" cy="1815.8" rx="15.6" ry="8.75"/></g>
<g filter="url(#f5)" fill="#000" opacity="0.35"><rect x="328.38" y="1804.3" width="42.24" height="23"/><ellipse cx="336.3" cy="1815.8" rx="19.8" ry="12"/><ellipse cx="362.7" cy="1815.8" rx="19.8" ry="12"/></g>
<g filter="url(#f2)" fill="#000" opacity="1"><rect x="329.66" y="1807.05" width="39.68" height="17.5"/><ellipse cx="337.1" cy="1815.8" rx="18.6" ry="9.75"/><ellipse cx="361.9" cy="1815.8" rx="18.6" ry="9.75"/></g>
<g filter="url(#f5)" fill="#000" opacity="0.35"><rect x="404.26" y="1805.9" width="33.28" height="22"/><ellipse cx="410.5" cy="1816.9" rx="15.6" ry="11.5"/><ellipse cx="431.3" cy="1816.9" rx="15.6" ry="11.5"/></g>
<g filter="url(#f2)" fill="#000" opacity="1"><rect x="405.54" y="1808.65" width="30.72" height="16.5"/><ellipse cx="411.3" cy="1816.9" rx="14.4" ry="9.25"/><ellipse cx="430.5" cy="1816.9" rx="14.4" ry="9.25"/></g>
<text x="59.5" y="1584.6" font-size="38">ZBTB7B</text>
<text x="238.5" y="1584.6" font-size="38">NC</text>
<text x="308.3" y="1584.6" font-size="38">si-1</text>
<text x="389.6" y="1584.6" font-size="38">si-2</text>
<text x="195.3" y="1660" font-size="38" text-anchor="end">ADPGK</text>
<text x="194.6" y="1741" font-size="38" text-anchor="end">ZBTB7B</text>
<text x="194.6" y="1828" font-size="38" text-anchor="end">Actin</text>
<line x1="580" y1="1572.3" x2="580" y2="1846.6" stroke="#000" stroke-width="2.6"/>
<line x1="568.7" y1="1573.3" x2="580" y2="1573.3" stroke="#000" stroke-width="2.6"/>
<text x="565.4" y="1580.7" font-size="20.5" font-weight="bold" text-anchor="end">1.5</text>
<line x1="568.7" y1="1664.5" x2="580" y2="1664.5" stroke="#000" stroke-width="2.6"/>
<text x="565.4" y="1671.9" font-size="20.5" font-weight="bold" text-anchor="end">1.0</text>
<line x1="568.7" y1="1755.3" x2="580" y2="1755.3" stroke="#000" stroke-width="2.6"/>
<text x="565.4" y="1762.7" font-size="20.5" font-weight="bold" text-anchor="end">0.5</text>
<line x1="568.7" y1="1845.6" x2="580" y2="1845.6" stroke="#000" stroke-width="2.6"/>
<text x="565.4" y="1853" font-size="20.5" font-weight="bold" text-anchor="end">0.0</text>
<line x1="568.7" y1="1845.6" x2="889" y2="1845.6" stroke="#000" stroke-width="2.6"/>
<line x1="641.6" y1="1845.6" x2="641.6" y2="1856.5" stroke="#000" stroke-width="2.6"/>
<line x1="734.5" y1="1845.6" x2="734.5" y2="1856.5" stroke="#000" stroke-width="2.6"/>
<line x1="826.9" y1="1845.6" x2="826.9" y2="1856.5" stroke="#000" stroke-width="2.6"/>
<rect x="610.8" y="1664.5" width="62" height="181.1" fill="#1a00ff"/>
<rect x="703.2" y="1795.2" width="62.1" height="50.4" fill="#fe1f0e"/>
<rect x="795.7" y="1797.3" width="62" height="48.3" fill="#48e01c"/>
<line x1="641.6" y1="1628.2" x2="641.6" y2="1664.5" stroke="#1a00ff" stroke-width="1.6"/>
<line x1="626.2" y1="1628.2" x2="657" y2="1628.2" stroke="#1a00ff" stroke-width="1.6"/>
<line x1="734.5" y1="1771.5" x2="734.5" y2="1795.2" stroke="#fe1f0e" stroke-width="1.6"/>
<line x1="719.1" y1="1771.5" x2="749.9" y2="1771.5" stroke="#fe1f0e" stroke-width="1.6"/>
<line x1="826.9" y1="1782.3" x2="826.9" y2="1797.3" stroke="#48e01c" stroke-width="1.6"/>
<line x1="811.5" y1="1782.3" x2="842.3" y2="1782.3" stroke="#48e01c" stroke-width="1.6"/>
<polyline fill="none" stroke="#000" stroke-width="2.6" stroke-linejoin="miter" points="641.6,1610.7 641.6,1595.3 734.5,1595.3 734.5,1754.4"/>
<text x="687.85" y="1591.76" font-size="28" font-weight="bold" text-anchor="middle" letter-spacing="0.9" class="st">***</text>
<polyline fill="none" stroke="#000" stroke-width="2.6" stroke-linejoin="miter" points="641.6,1579.5 641.6,1537.9 826.9,1537.9 826.9,1764.8"/>
<text x="734.45" y="1534.76" font-size="28" font-weight="bold" text-anchor="middle" letter-spacing="0.9" class="st">***</text>
<text x="734" y="1492" font-size="26" font-weight="bold" text-anchor="middle">ZBTB7B</text>
<text x="641.6" y="1880.6" font-size="22.5" font-weight="bold" text-anchor="middle">siCtrl</text>
<text x="734.5" y="1880.6" font-size="22.5" font-weight="bold" text-anchor="middle">si-1</text>
<text x="826.9" y="1880.6" font-size="22.5" font-weight="bold" text-anchor="middle">si-2</text>
<text x="523.7" y="1709.7" font-size="30" font-weight="bold" text-anchor="middle" transform="rotate(-90 523.7 1709.7)" textLength="281" lengthAdjust="spacingAndGlyphs">Relative proteint level</text>
<line x1="986" y1="1566.4" x2="986" y2="1841.2" stroke="#000" stroke-width="2.6"/>
<line x1="974.8" y1="1567.4" x2="986" y2="1567.4" stroke="#000" stroke-width="2.6"/>
<text x="971.4" y="1574.8" font-size="20.5" font-weight="bold" text-anchor="end">1.5</text>
<line x1="974.8" y1="1658.6" x2="986" y2="1658.6" stroke="#000" stroke-width="2.6"/>
<text x="971.4" y="1666" font-size="20.5" font-weight="bold" text-anchor="end">1.0</text>
<line x1="974.8" y1="1749.4" x2="986" y2="1749.4" stroke="#000" stroke-width="2.6"/>
<text x="971.4" y="1756.8" font-size="20.5" font-weight="bold" text-anchor="end">0.5</text>
<line x1="974.8" y1="1840.2" x2="986" y2="1840.2" stroke="#000" stroke-width="2.6"/>
<text x="971.4" y="1847.6" font-size="20.5" font-weight="bold" text-anchor="end">0.0</text>
<line x1="974.8" y1="1840.2" x2="1295.4" y2="1840.2" stroke="#000" stroke-width="2.6"/>
<line x1="1047.6" y1="1840.2" x2="1047.6" y2="1851" stroke="#000" stroke-width="2.6"/>
<line x1="1140.1" y1="1840.2" x2="1140.1" y2="1851" stroke="#000" stroke-width="2.6"/>
<line x1="1233" y1="1840.2" x2="1233" y2="1851" stroke="#000" stroke-width="2.6"/>
<rect x="1016.8" y="1658.6" width="62.1" height="181.6" fill="#1a00ff"/>
<rect x="1109.3" y="1791.9" width="62" height="48.3" fill="#fe1f0e"/>
<rect x="1201.7" y="1774" width="62.1" height="66.2" fill="#48e01c"/>
<line x1="1047.6" y1="1608.2" x2="1047.6" y2="1658.6" stroke="#1a00ff" stroke-width="1.6"/>
<line x1="1032.2" y1="1608.2" x2="1063" y2="1608.2" stroke="#1a00ff" stroke-width="1.6"/>
<line x1="1140.1" y1="1781.1" x2="1140.1" y2="1791.9" stroke="#fe1f0e" stroke-width="1.6"/>
<line x1="1124.7" y1="1781.1" x2="1155.5" y2="1781.1" stroke="#fe1f0e" stroke-width="1.6"/>
<line x1="1233" y1="1746.1" x2="1233" y2="1774" stroke="#48e01c" stroke-width="1.6"/>
<line x1="1217.6" y1="1746.1" x2="1248.4" y2="1746.1" stroke="#48e01c" stroke-width="1.6"/>
<polyline fill="none" stroke="#000" stroke-width="2.6" stroke-linejoin="miter" points="1047.6,1592 1047.6,1575.8 1140.1,1575.8 1140.1,1764.8"/>
<text x="1094.35" y="1573.06" font-size="28" font-weight="bold" text-anchor="middle" letter-spacing="0.9" class="st">**</text>
<polyline fill="none" stroke="#000" stroke-width="2.6" stroke-linejoin="miter" points="1047.6,1559.9 1047.6,1518.3 1233,1518.3 1233,1729.4"/>
<text x="1140.55" y="1515.96" font-size="28" font-weight="bold" text-anchor="middle" letter-spacing="0.9" class="st">**</text>
<text x="1140.1" y="1485.8" font-size="26" font-weight="bold" text-anchor="middle">ADPGK</text>
<text x="1047.6" y="1875.2" font-size="22.5" font-weight="bold" text-anchor="middle">siCtrl</text>
<text x="1140.1" y="1875.2" font-size="22.5" font-weight="bold" text-anchor="middle">si-1</text>
<text x="1233" y="1875.2" font-size="22.5" font-weight="bold" text-anchor="middle">si-2</text>
<text x="930.6" y="1704" font-size="30" font-weight="bold" text-anchor="middle" transform="rotate(-90 930.6 1704)" textLength="280" lengthAdjust="spacingAndGlyphs">Relative proteint level</text>
<line x1="564" y1="414" x2="938.7" y2="414" stroke="#000" stroke-width="2.6"/>
<line x1="999.8" y1="410.6" x2="1374.4" y2="410.6" stroke="#000" stroke-width="2.6"/>
<line x1="1503.1" y1="411.2" x2="1877.2" y2="411.2" stroke="#000" stroke-width="2.6"/>
<line x1="1398.4" y1="853.8" x2="1772.9" y2="853.8" stroke="#000" stroke-width="2.6"/>
<line x1="136.2" y1="1348.6" x2="510.1" y2="1348.6" stroke="#000" stroke-width="2.6"/>
<line x1="1654.1" y1="1348.6" x2="1975" y2="1348.6" stroke="#000" stroke-width="2.6"/>
<line x1="568.7" y1="1845.6" x2="889" y2="1845.6" stroke="#000" stroke-width="2.6"/>
<line x1="974.8" y1="1840.2" x2="1295.4" y2="1840.2" stroke="#000" stroke-width="2.6"/>
</svg>
</body></html>
